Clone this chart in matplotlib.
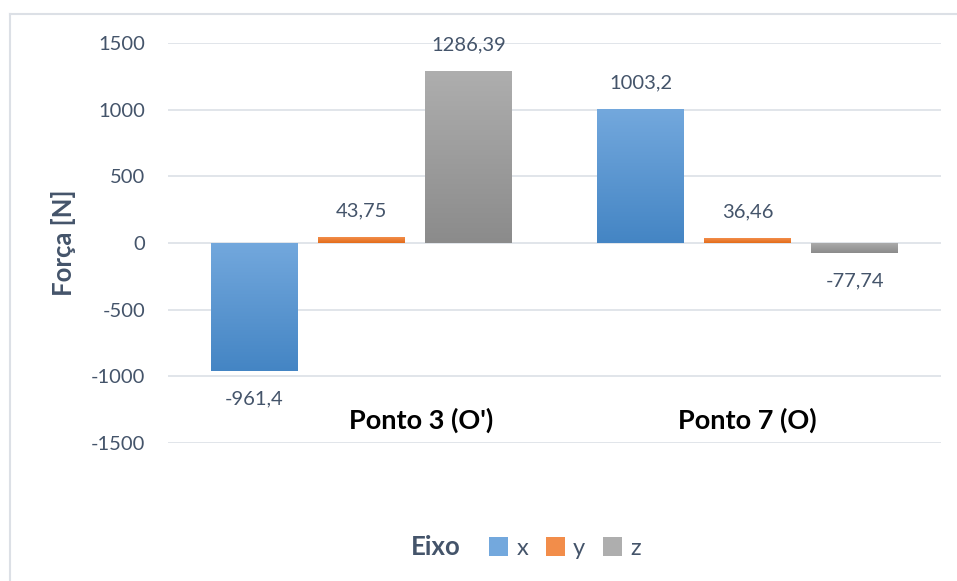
import numpy as np
import matplotlib
matplotlib.use("Agg")
import matplotlib.pyplot as plt
from matplotlib.colors import LinearSegmentedColormap
from matplotlib.lines import Line2D
from matplotlib.patches import Patch

plt.rcParams['font.family'] = ['Lato', 'DejaVu Sans']

# data
categories = ["Ponto 3 (O')", "Ponto 7 (O)"]
series_names = ["x", "y", "z"]
fx = [-961.4, 1003.2]
fy = [43.75, 36.46]
fz = [1286.39, -77.74]
yticks = [-1500, -1000, -500, 0, 500, 1000, 1500]

# styles
grad = {
    "x": ("#73A8DD", "#4485C4"),
    "y": ("#F28D4A", "#E36C1A"),
    "z": ("#AEAEAE", "#8B8B8B"),
}
text_col = "#44546A"
grid_col = "#DCE0E6"
label_x_shift = [0.155, 0.0]

W, H = 957, 581
fig = plt.figure(figsize=(W / 100, H / 100), dpi=100)
ax = fig.add_axes([168 / W, 1 - 443 / H, (941 - 168) / W, 400 / H])

x = np.arange(len(categories))
bw = 0.225
step = 0.277
values = [fx, fy, fz]

ramp = np.linspace(0, 1, 256).reshape(-1, 1)
for i, (name, vals) in enumerate(zip(series_names, values)):
    bars = ax.bar(x + (i - 1) * step, vals, width=bw, facecolor="none",
                  edgecolor="none", zorder=3)
    cmap = LinearSegmentedColormap.from_list(name, grad[name])
    for b, v in zip(bars, vals):
        x0, y0 = b.get_x(), b.get_y()
        w, h = b.get_width(), b.get_height()
        lo, hi = min(y0, y0 + h), max(y0, y0 + h)
        im = ax.imshow(ramp, cmap=cmap, aspect="auto", origin="upper",
                       extent=(x0, x0 + w, lo, hi), zorder=3)
        im.set_clip_path(b)
        lab = ("%g" % v).replace(".", ",")
        off = 19 if v >= 0 else -20
        ax.annotate(lab, (x0 + w / 2, hi if v >= 0 else lo),
                    xytext=(0, off), textcoords="offset points",
                    ha="center", va="center", fontsize=14.5, color=text_col)

ax.set_xlim(-0.5, len(categories) - 0.5)
ax.set_ylim(-1500, 1500)
ax.set_yticks(yticks)
ax.set_yticklabels([str(t) for t in yticks])
ax.set_xticks([])
ax.tick_params(axis="y", length=0, pad=16.5, labelsize=14.5, labelcolor=text_col)
ax.grid(axis="y", color=grid_col, linewidth=1.2, zorder=0)
ax.set_axisbelow(True)
for s in ax.spines.values():
    s.set_visible(False)

for i, c in enumerate(categories):
    ax.text(i + label_x_shift[i], -1330, c, ha="center", va="center",
            fontsize=19.5, fontweight="bold", color="black")

fig.text(63 / W, 1 - 243 / H, "Força [N]", rotation=90, ha="center",
         va="center", fontsize=18.5, fontweight="bold", color=text_col)

# legend
handles = [Patch(facecolor=grad[n][0], edgecolor="none") for n in series_names]
fig.legend(handles, series_names, loc="center", ncol=3,
           bbox_to_anchor=(565 / W, 1 - 548 / H), frameon=False,
           fontsize=17, labelcolor=text_col, handlelength=0.82,
           handleheight=0.82, handletextpad=0.34, columnspacing=0.75)
fig.text(436 / W, 1 - 547 / H, "Eixo", ha="center", va="center",
         fontsize=18.5, fontweight="bold", color=text_col)

# chart border
fig.add_artist(Line2D([10 / W, 10 / W], [1 - 14 / H, 0], color=grid_col, lw=1.5))
fig.add_artist(Line2D([10 / W, 1], [1 - 14 / H, 1 - 14 / H], color=grid_col, lw=1.5))

fig.savefig("out.png", dpi=100, facecolor="white")
